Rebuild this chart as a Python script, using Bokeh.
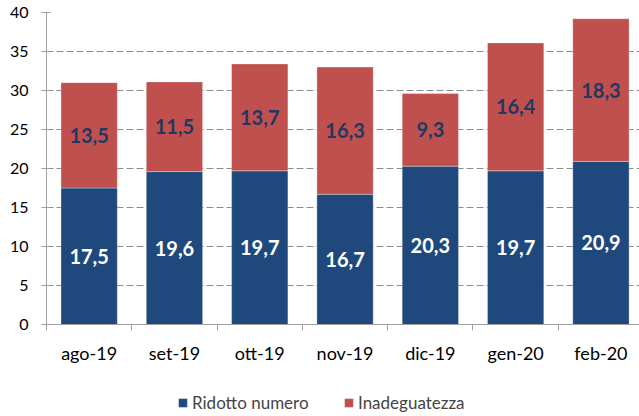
from bokeh.plotting import figure
from bokeh.layouts import column
from bokeh.models import Range1d, FixedTicker, Legend, LegendItem, ColumnDataSource
from bokeh.core.properties import value
from bokeh.embed import file_html
from bokeh.resources import INLINE

cats = ["ago-19", "set-19", "ott-19", "nov-19", "dic-19", "gen-20", "feb-20"]
ridotto = [17.5, 19.6, 19.7, 16.7, 20.3, 19.7, 20.9]
inadeguatezza = [13.5, 11.5, 13.7, 16.3, 9.3, 16.4, 18.3]
series_names = ["Ridotto numero", "Inadeguatezza"]
y_ticks = [0, 5, 10, 15, 20, 25, 30, 35, 40]

BLUE = "#1F497D"
RED = "#C0504D"
LABEL = "#1F3864"
FONT = "Lato"

xs = list(range(len(cats)))
fmt = lambda v: f"{v:.1f}".replace(".", ",")
src = ColumnDataSource(dict(
    x=xs,
    ridotto=ridotto,
    inadeguatezza=inadeguatezza,
    r_mid=[r / 2 for r in ridotto],
    i_mid=[r + i / 2 for r, i in zip(ridotto, inadeguatezza)],
    r_lbl=[fmt(v) for v in ridotto],
    i_lbl=[fmt(v) for v in inadeguatezza],
))

W = 639
p = figure(width=W, height=366, output_backend="svg", toolbar_location=None,
           x_range=Range1d(-0.5, len(cats) - 0.548), y_range=Range1d(y_ticks[0], y_ticks[-1]),
           min_border_left=46, min_border_right=0, min_border_top=12, min_border_bottom=41)
p.outline_line_color = None
p.background_fill_color = "white"
p.border_fill_color = "white"

bar_kw = dict(x="x", width=0.66, color=[BLUE, RED], line_color="white", line_width=0.5,
              line_alpha=0.6, source=src)
p.vbar_stack(["ridotto", "inadeguatezza"], **bar_kw)

p.text(x="x", y="r_mid", text="r_lbl", source=src, text_align="center", text_baseline="middle",
       text_font=value(FONT), text_font_style="bold", text_font_size="20px", text_color="white")
p.text(x="x", y="i_mid", text="i_lbl", source=src, text_align="center", text_baseline="middle",
       text_font=value(FONT), text_font_style="bold", text_font_size="20px", text_color=LABEL)

# grid
p.xgrid.grid_line_color = None
p.ygrid.ticker = FixedTicker(ticks=y_ticks)
p.ygrid.grid_line_color = "#8C8C8C"
p.ygrid.grid_line_dash = "7 3"
p.ygrid.grid_line_width = 1.2

# y axis
p.yaxis.ticker = FixedTicker(ticks=y_ticks)
p.yaxis.axis_line_color = "#A0A0A0"
p.yaxis.major_tick_line_color = "#A0A0A0"
p.yaxis.major_tick_in = 4
p.yaxis.major_tick_out = 5
p.yaxis.minor_tick_line_color = None
p.yaxis.major_label_standoff = 13
p.yaxis.major_label_text_font = FONT
p.yaxis.major_label_text_font_size = "16px"
p.yaxis.major_label_text_color = "#000000"

# x axis
p.xaxis.ticker = FixedTicker(ticks=xs, minor_ticks=[i - 0.5 for i in range(len(cats) + 1)])
p.xaxis.major_label_overrides = {i: c for i, c in enumerate(cats)}
p.xaxis.axis_line_color = "#A0A0A0"
p.xaxis.major_tick_line_color = None
p.xaxis.minor_tick_line_color = "#A0A0A0"
p.xaxis.minor_tick_in = 0
p.xaxis.minor_tick_out = 6
p.xaxis.major_label_standoff = 11
p.xaxis.major_label_text_font = FONT
p.xaxis.major_label_text_font_size = "18px"
p.xaxis.major_label_text_color = "#000000"

# legend strip below the chart (same series; its view range is away from the bars)
lg = figure(width=W, height=50, output_backend="svg", toolbar_location=None,
            x_axis_location=None, y_axis_location=None,
            x_range=Range1d(-20, -19), y_range=Range1d(-20, -19),
            min_border_left=0, min_border_right=0, min_border_top=0, min_border_bottom=0)
lg.grid.grid_line_color = None
lg.outline_line_color = None
lrs = lg.vbar_stack(["ridotto", "inadeguatezza"], **bar_kw)
for name, r, xpos in zip(series_names, lrs, (131, 297)):
    leg = Legend(items=[LegendItem(label=name, renderers=[r])], location=(xpos, 3),
                 glyph_width=11, glyph_height=11, label_standoff=4,
                 label_text_font=FONT, label_text_font_size="17px",
                 border_line_color=None, background_fill_alpha=0, margin=0, padding=0)
    lg.add_layout(leg, "center")

layout = column(p, lg, spacing=0)
open("out.html", "w").write(file_html(layout, INLINE))
